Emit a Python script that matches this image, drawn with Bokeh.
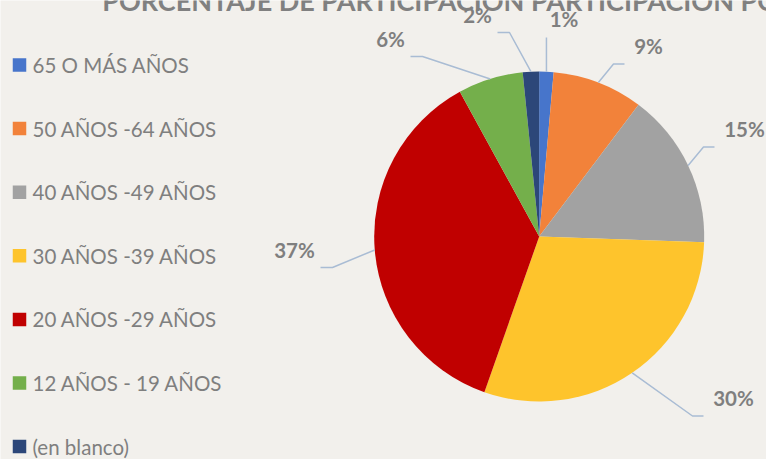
import math
from bokeh.plotting import figure
from bokeh.models import Range1d
from bokeh.core.properties import value
from bokeh.embed import file_html
from bokeh.resources import INLINE

# ---------------- data ----------------
categories = ["65 O MÁS AÑOS", "50 AÑOS -64 AÑOS", "40 AÑOS -49 AÑOS",
              "30 AÑOS -39 AÑOS", "20 AÑOS -29 AÑOS", "12 AÑOS - 19 AÑOS",
              "(en blanco)"]
shares = [1.4, 8.9, 15.3, 29.9, 36.7, 6.4, 1.6]
title_text = "PORCENTAJE DE PARTICIPACIÓN PARTICIPACIÓN POR EDAD"

# ---------------- style / layout ----------------
colors = ["#4775CB", "#F2823A", "#A2A2A2", "#FEC42C", "#C00000", "#74AF4B", "#2C4779"]
BG = "#F2F0EC"
TXT = "#7F7F7F"
LEADER = "#A9BCD4"
FONT = value("Lato")

W, H = 766, 459


def X(rx):
    return rx


def Y(ry):
    return H - ry


# pie centre / radius in reference pixel coordinates
CX, CY, R = 538.7, 236.0, 165.0
# label centres (reference pixels) chosen as in the picture
label_pos = [(563.5, 18.5), (648, 45.5), (744, 128.5), (733, 397.5),
             (294, 249), (390, 38), (477, 14)]
leader_kind = ["straight", "elbow", "elbow", "elbow", "elbow", "elbow", "elbow"]

total = sum(shares)
fr = [s / total for s in shares]
cum0, cum1 = [], []
acc = 0.0
for f in fr:
    cum0.append(acc)
    acc += f
    cum1.append(acc)

start = [math.pi / 2 - 2 * math.pi * c for c in cum0]
end = [math.pi / 2 - 2 * math.pi * c for c in cum1]
labels = [f"{round(s)}%" for s in shares]

p = figure(width=W, height=H, output_backend="svg", toolbar_location=None,
           x_range=Range1d(0, W), y_range=Range1d(0, H), min_border=0)
p.axis.visible = False
p.grid.visible = False
p.outline_line_color = None
p.background_fill_color = BG
p.border_fill_color = BG

# title (clipped at the top as in the reference)
p.text(x=[X(101.7)], y=[Y(0)], text=[title_text], text_font=FONT,
       text_font_size="27px", text_font_style="bold", text_color="#808080",
       text_align="left", text_baseline="alphabetic")

# pie
p.wedge(x=[X(CX)] * len(shares), y=[Y(CY)] * len(shares), radius=R,
        start_angle=start, end_angle=end, direction="clock",
        fill_color=colors, line_color=None)

# leader lines
xs, ys = [], []
for i, f in enumerate(fr):
    mid = 2 * math.pi * (cum0[i] + cum1[i]) / 2
    ex = CX + R * math.sin(mid)
    ey = CY - R * math.cos(mid)
    lx, ly = label_pos[i]
    hw = 14 if len(labels[i]) == 2 else 20
    if leader_kind[i] == "straight":
        pts = [(ex, ey), (ex, ly + 18.5)]
    elif lx > ex:
        endx = lx - hw - 10
        pts = [(ex, ey), (endx - 11, ly + 18), (endx, ly + 18)]
    else:
        endx = lx + hw + 6
        pts = [(ex, ey), (endx + 12, ly + 18), (endx, ly + 18)]
    xs.append([X(a) for a, b in pts])
    ys.append([Y(b) for a, b in pts])
p.multi_line(xs=xs, ys=ys, line_color=LEADER, line_width=1.5)

# data labels
p.text(x=[X(a) for a, b in label_pos], y=[Y(b) for a, b in label_pos],
       text=labels, text_font=FONT, text_font_size="20.5px",
       text_font_style="bold", text_color=TXT, text_align="center",
       text_baseline="middle")

# legend
row_y = [64.5 + i * 63.6 for i in range(len(categories))]
p.rect(x=[X(19)] * len(categories), y=[Y(v) for v in row_y], width=13.5,
       height=13.5, fill_color=colors, line_color=None)
p.text(x=[X(32)] * len(categories), y=[Y(v) for v in row_y], text=categories,
       text_font=FONT, text_font_size="20.5px", text_color=TXT,
       text_align="left", text_baseline="middle")

open("out.html", "w").write(file_html(p, INLINE))
